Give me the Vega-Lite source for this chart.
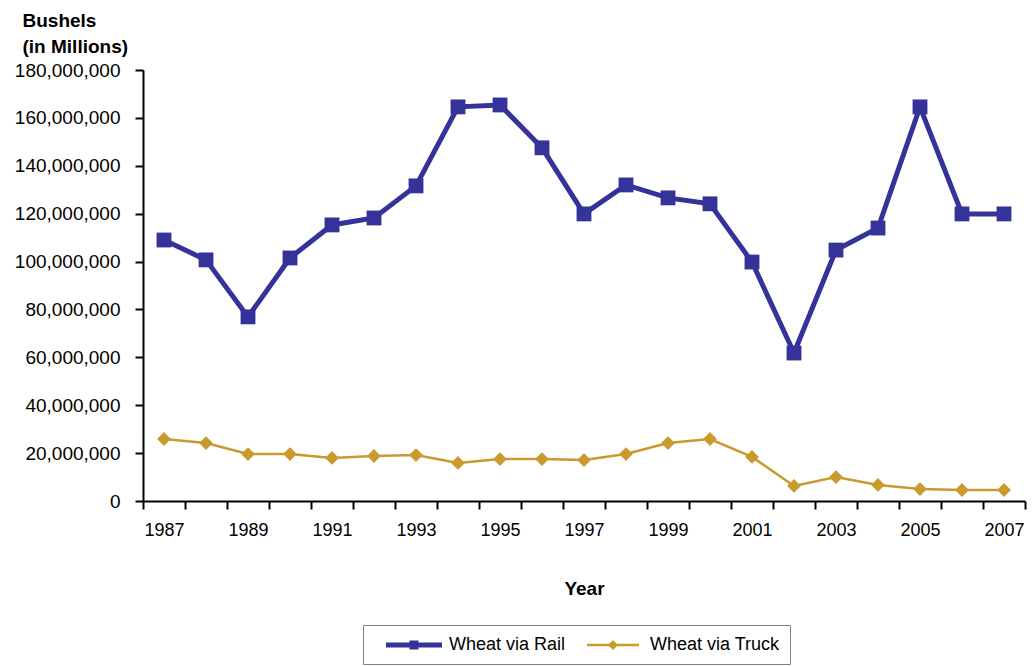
{
  "$schema": "https://vega.github.io/schema/vega-lite/v6.json",
  "width": 882,
  "height": 431,
  "autosize": {"type": "none"},
  "padding": {"left": 143, "top": 70, "right": 7, "bottom": 165},
  "background": "white",
  "config": {
    "view": {"stroke": null},
    "font": "Liberation Sans",
    "axis": {"grid": false, "domainColor": "black", "domainWidth": 2, "tickColor": "black", "tickWidth": 2, "labelColor": "black", "titleColor": "black", "labelFont": "Liberation Sans", "titleFont": "Liberation Sans"}
  },
  "data": {
    "values": [
      {"year": 1987, "series": "Wheat via Rail", "value": 109000000},
      {"year": 1988, "series": "Wheat via Rail", "value": 100700000},
      {"year": 1989, "series": "Wheat via Rail", "value": 76900000},
      {"year": 1990, "series": "Wheat via Rail", "value": 101500000},
      {"year": 1991, "series": "Wheat via Rail", "value": 115300000},
      {"year": 1992, "series": "Wheat via Rail", "value": 118200000},
      {"year": 1993, "series": "Wheat via Rail", "value": 131600000},
      {"year": 1994, "series": "Wheat via Rail", "value": 164600000},
      {"year": 1995, "series": "Wheat via Rail", "value": 165400000},
      {"year": 1996, "series": "Wheat via Rail", "value": 147500000},
      {"year": 1997, "series": "Wheat via Rail", "value": 119900000},
      {"year": 1998, "series": "Wheat via Rail", "value": 132000000},
      {"year": 1999, "series": "Wheat via Rail", "value": 126600000},
      {"year": 2000, "series": "Wheat via Rail", "value": 124100000},
      {"year": 2001, "series": "Wheat via Rail", "value": 99800000},
      {"year": 2002, "series": "Wheat via Rail", "value": 61800000},
      {"year": 2003, "series": "Wheat via Rail", "value": 104800000},
      {"year": 2004, "series": "Wheat via Rail", "value": 114000000},
      {"year": 2005, "series": "Wheat via Rail", "value": 164600000},
      {"year": 2006, "series": "Wheat via Rail", "value": 119900000},
      {"year": 2007, "series": "Wheat via Rail", "value": 119900000},
      {"year": 1987, "series": "Wheat via Truck", "value": 25900000},
      {"year": 1988, "series": "Wheat via Truck", "value": 24200000},
      {"year": 1989, "series": "Wheat via Truck", "value": 19600000},
      {"year": 1990, "series": "Wheat via Truck", "value": 19600000},
      {"year": 1991, "series": "Wheat via Truck", "value": 18000000},
      {"year": 1992, "series": "Wheat via Truck", "value": 18800000},
      {"year": 1993, "series": "Wheat via Truck", "value": 19200000},
      {"year": 1994, "series": "Wheat via Truck", "value": 15900000},
      {"year": 1995, "series": "Wheat via Truck", "value": 17500000},
      {"year": 1996, "series": "Wheat via Truck", "value": 17500000},
      {"year": 1997, "series": "Wheat via Truck", "value": 17100000},
      {"year": 1998, "series": "Wheat via Truck", "value": 19600000},
      {"year": 1999, "series": "Wheat via Truck", "value": 24200000},
      {"year": 2000, "series": "Wheat via Truck", "value": 25900000},
      {"year": 2001, "series": "Wheat via Truck", "value": 18400000},
      {"year": 2002, "series": "Wheat via Truck", "value": 6300000},
      {"year": 2003, "series": "Wheat via Truck", "value": 10000000},
      {"year": 2004, "series": "Wheat via Truck", "value": 6700000},
      {"year": 2005, "series": "Wheat via Truck", "value": 5000000},
      {"year": 2006, "series": "Wheat via Truck", "value": 4600000},
      {"year": 2007, "series": "Wheat via Truck", "value": 4600000}
    ]
  },
  "encoding": {
    "x": {
      "field": "year",
      "type": "ordinal",
      "scale": {"type": "band", "paddingInner": 0, "paddingOuter": 0},
      "axis": {
        "title": "Year",
        "titleFontSize": 19,
        "titleFontWeight": "bold",
        "titlePadding": 40,
        "labelAngle": 0,
        "labelFontSize": 18,
        "labelPadding": 12,
        "tickSize": 8,
        "tickBand": "extent",
        "labelExpr": "datum.value % 2 == 1 ? datum.label : ''"
      }
    },
    "y": {
      "field": "value",
      "type": "quantitative",
      "scale": {"domain": [0, 180000000]},
      "axis": {
        "values": [0, 20000000, 40000000, 60000000, 80000000, 100000000, 120000000, 140000000, 160000000, 180000000],
        "format": ",.0f",
        "labelFontSize": 19,
        "labelPadding": 15,
        "tickSize": 8,
        "title": ["Bushels", "(in Millions)"],
        "titleFontSize": 19,
        "titleFontWeight": "bold",
        "titleAngle": 0,
        "titleAlign": "left",
        "titleBaseline": "top",
        "titleX": -121,
        "titleY": -59,
        "titleLineHeight": 26
      }
    }
  },
  "resolve": {"legend": {"color": "independent"}},
  "layer": [
    {
      "transform": [{"filter": "datum.series == 'Wheat via Truck'"}],
      "mark": {"type": "line", "strokeWidth": 2.5},
      "encoding": {
        "color": {"field": "series", "type": "nominal", "scale": {"domain": ["Wheat via Rail", "Wheat via Truck"], "range": ["#333399", "#C99A2E"]}, "legend": null}
      }
    },
    {
      "transform": [{"filter": "datum.series == 'Wheat via Rail'"}],
      "mark": {"type": "line", "strokeWidth": 5},
      "encoding": {
        "color": {"field": "series", "type": "nominal", "legend": null}
      }
    },
    {
      "mark": {"type": "point", "filled": true, "opacity": 1},
      "encoding": {
        "color": {"field": "series", "type": "nominal", "legend": {
          "orient": "none",
          "legendX": 220,
          "legendY": 555,
          "direction": "horizontal",
          "title": null,
          "strokeColor": "#808080",
          "padding": 10,
          "symbolSize": 400,
          "symbolStrokeWidth": 0,
          "symbolType": {"expr": "datum.value === 'Wheat via Rail' ? 'M0.3,-0.25H5.9V0.25H0.3Z M2.65,-0.45H3.55V0.45H2.65Z' : 'M0.3,-0.125H5.5V0.125H0.3Z M2.9,-0.5L3.4,0L2.9,0.5L2.4,0Z'"},
          "labelFontSize": 18,
          "labelFont": "Liberation Sans",
          "labelColor": "black",
          "columnPadding": 8,
          "labelOffset": 56,
          "encode": {"symbols": {
            "strokeWidth": {"value": 0},
            "opacity": {"value": 1}
          }}
        }},
        "shape": {"field": "series", "type": "nominal", "scale": {"domain": ["Wheat via Rail", "Wheat via Truck"], "range": ["square", "diamond"]}, "legend": null},
        "size": {"field": "series", "type": "nominal", "scale": {"domain": ["Wheat via Rail", "Wheat via Truck"], "range": [220, 190]}, "legend": null}
      }
    }
  ]
}
